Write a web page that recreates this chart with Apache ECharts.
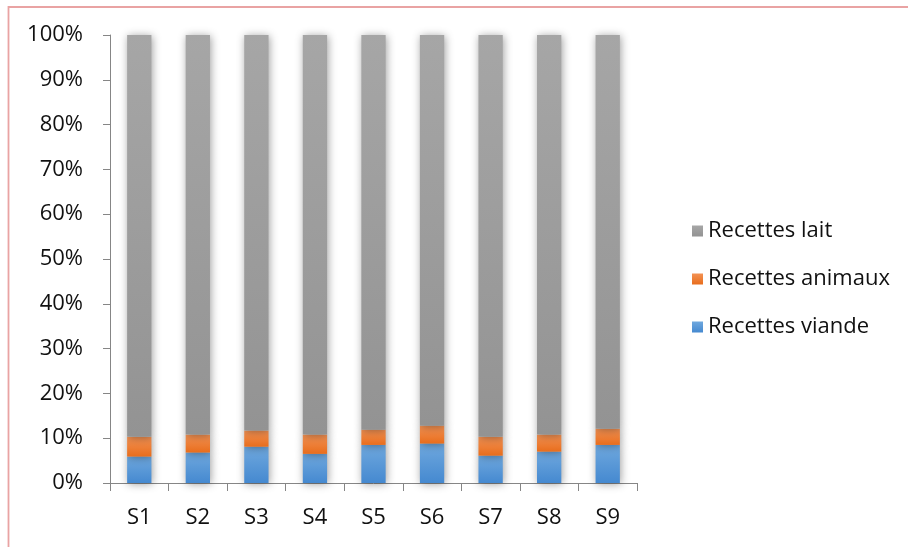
<!DOCTYPE html>
<html>
<head>
<meta charset="utf-8">
<script src="https://cdn.jsdelivr.net/npm/echarts@6/dist/echarts.min.js"></script>
<style>
  html, body { margin: 0; padding: 0; background: #fff; }
  #chart { width: 908px; height: 547px; }
</style>
</head>
<body>
<div id="chart"></div>
<script>
// Share of each revenue source per site (percent)
const categories = ['S1', 'S2', 'S3', 'S4', 'S5', 'S6', 'S7', 'S8', 'S9'];
const recettesViande  = [5.9, 6.8, 8.1, 6.5, 8.5, 8.8, 6.1, 7.0, 8.5];
const recettesAnimaux = [4.4, 4.0, 3.6, 4.3, 3.4, 4.0, 4.2, 3.8, 3.6];
const recettesLait    = [89.7, 89.2, 88.3, 89.2, 88.1, 87.2, 89.7, 89.2, 87.9];
const yTicks = [0, 10, 20, 30, 40, 50, 60, 70, 80, 90, 100];

const FONT = '"Open Sans"';
const FONT_SIZE = 22;
const axisGrey = '#868686';

function grad(top, bottom) {
  return new echarts.graphic.LinearGradient(0, 0, 0, 1, [
    { offset: 0, color: top },
    { offset: 1, color: bottom }
  ]);
}

const barShadow = {
  shadowBlur: 9,
  shadowColor: 'rgba(0,0,0,0.38)',
  shadowOffsetX: 1,
  shadowOffsetY: 1
};

function makeSeries(name, data, top, bottom) {
  return {
    name: name,
    type: 'bar',
    stack: 'total',
    barWidth: '41.5%',
    data: data,
    itemStyle: Object.assign({ color: grad(top, bottom) }, barShadow)
  };
}

const chart = echarts.init(document.getElementById('chart'), null, { renderer: 'canvas' });

chart.setOption({
  animation: false,
  backgroundColor: '#ffffff',
  textStyle: { fontFamily: FONT },
  grid: { left: 110, right: 271, top: 35, bottom: 64, containLabel: false },
  graphic: [{
    type: 'rect',
    shape: { x: 8.5, y: 7, width: 1200, height: 1200 },
    style: { fill: 'none', stroke: '#e9a3a3', lineWidth: 1.8 },
    silent: true
  }],
  legend: {
    orient: 'vertical',
    left: 687,
    top: 214,
    data: ['Recettes lait', 'Recettes animaux', 'Recettes viande'],
    icon: 'rect',
    itemWidth: 11,
    itemHeight: 11,
    itemGap: 24,
    textStyle: { fontFamily: FONT, fontSize: FONT_SIZE, color: '#111', lineHeight: 24 }
  },
  xAxis: {
    type: 'category',
    data: categories,
    axisLine: { lineStyle: { color: axisGrey, width: 1 } },
    axisTick: { show: true, length: 8, lineStyle: { color: axisGrey } },
    axisLabel: { fontFamily: FONT, fontSize: FONT_SIZE, color: '#111', margin: 24 },
    splitLine: { show: false }
  },
  yAxis: {
    type: 'value',
    min: yTicks[0],
    max: yTicks[yTicks.length - 1],
    interval: yTicks[1] - yTicks[0],
    axisLine: { show: true, lineStyle: { color: axisGrey, width: 1 } },
    axisTick: { show: true, length: 7, lineStyle: { color: axisGrey } },
    axisLabel: { fontFamily: FONT, fontSize: FONT_SIZE, color: '#111', margin: 27, formatter: '{value}%' },
    splitLine: { show: false }
  },
  series: [
    makeSeries('Recettes viande', recettesViande, '#6fa8de', '#4589d0'),
    makeSeries('Recettes animaux', recettesAnimaux, '#f39254', '#e86d1c'),
    makeSeries('Recettes lait', recettesLait, '#a6a6a6', '#939393')
  ]
});
</script>
</body>
</html>
